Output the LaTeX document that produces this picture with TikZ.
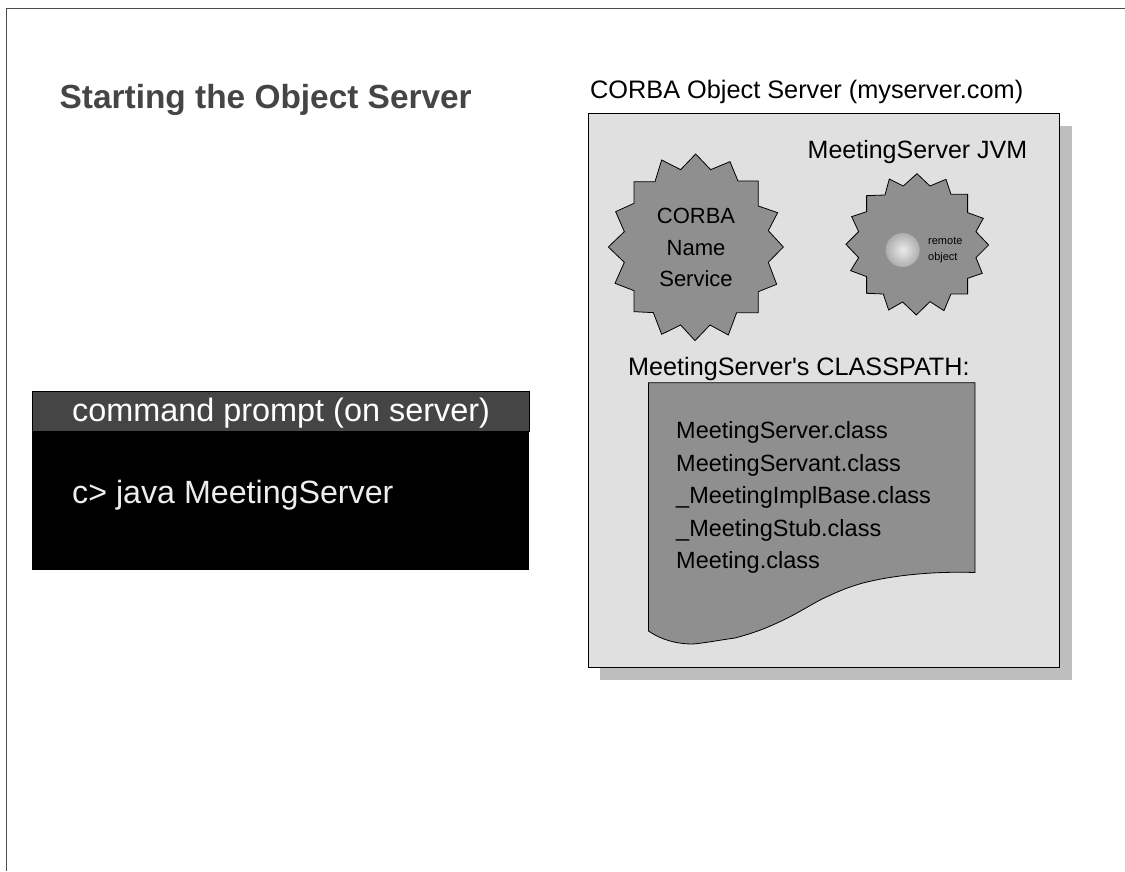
\documentclass[tikz,border=0pt]{standalone}
\usepackage{fontspec}
\setmainfont{Liberation Sans}
\definecolor{paneGray}{HTML}{E0E0E0}
\definecolor{shadowGray}{HTML}{BEBEBE}
\definecolor{starGray}{HTML}{8F8F8F}
\definecolor{barGray}{HTML}{454545}

\begin{document}
\begin{tikzpicture} [x=1pt, y=-1pt,
            frame line/.style={black!70, line width=1.2pt},
            outline/.style={black, line width=0.8pt},
            star/.style={outline, fill=starGray, line join=miter},
            label/.style={inner sep=0pt, anchor=base west, font=\fontsize{#1}{#1}\selectfont},
            centre label/.style={inner sep=0pt, anchor=base, font=\fontsize{22}{22}\selectfont}]

        \useasboundingbox (0,0) rectangle (1125,871);
        \fill[white] (0,0) rectangle (1125,871);
        \draw[frame line] (6.5,871) -- (6.5,8.5) -- (1125,8.5);

        % title
        \node[label=33.4, text=black!73] (title) at (59.5,108) {\bfseries Starting the Object Server};

        % command window
        \fill[black] (32,391) rectangle (529,570);
        \draw[black, fill=barGray] (32,391) rectangle (529,431);
        \node[label=32.4, text=white] (prompt) at (72,421.5) {command prompt (on server)};
        \node[label=32.2, text=black!7] (command) at (72,503) {c> java MeetingServer};

        % server pane
        \node[label=25.3, text=black] (server) at (590,98) {CORBA Object Server (myserver.com)};
        \fill[shadowGray] (600,126) rectangle (1072,680);
        \draw[outline, fill=paneGray] (588,113.5) rectangle (1059,667.5);
        \node[label=25] (jvm) at (807.5,158) {MeetingServer JVM};

        % name service star
        \draw[star, shift={(590,100)}, x=0.3333pt, y=-0.3333pt] (317,162) -- (362,209) -- (420,185) -- (444,243) -- (505,243) -- (505,318)
            -- (563,338) -- (535,392) -- (580,441) -- (535,487) -- (560,553) -- (505,575) -- (505,638) -- (440,638)
            -- (415,705) -- (360,675) -- (315,722) -- (272,675) -- (215,703) -- (190,638) -- (132,635) -- (132,572)
            -- (75,550) -- (103,487) -- (55,441) -- (103,395) -- (77,335) -- (132,310) -- (132,245) -- (195,245)
            -- (215,180) -- (272,209) -- cycle;
        \node[centre label] (corba) at (696,223) {CORBA};
        \node[centre label] (name) at (696,255) {Name};
        \node[centre label] (service) at (696,286) {Service};

        % server star
        \draw[star, shift={(590,100)}, x=0.3333pt, y=-0.3333pt] (981,221) -- (1020,258) -- (1068,238) -- (1083,283) -- (1133,283) -- (1133,338)
            -- (1180,355) -- (1158,395) -- (1196,435) -- (1158,473) -- (1177,520) -- (1133,535) -- (1133,582) -- (1083,582)
            -- (1062,632) -- (1020,605) -- (979,645) -- (938,606) -- (896,630) -- (880,582) -- (830,580) -- (830,530)
            -- (782,512) -- (806,473) -- (768,433) -- (806,395) -- (785,350) -- (830,335) -- (830,287) -- (885,285)
            -- (898,237) -- (940,258) -- cycle;
        \shade[inner color=black!8, outer color=black!32] (902.7,250) circle (17);
        \node[label=11] (remote) at (928,244) {remote};
        \node[label=11] (object) at (928,260) {object};

        % classpath sheet
        \node[label=25.2] (classpath) at (628,375) {MeetingServer\textquotesingle s CLASSPATH:};
        \draw[star] (648.5,382.7) -- (975,382.7) -- (975,572.5) .. controls (930,571) and (890,576) .. (863,583)
            .. controls (845,588) and (835,593) .. (822,599) .. controls (805,608) and (795,615) .. (777,623)
            .. controls (762,630) and (750,634) .. (735,638) .. controls (720,640) and (705,643) .. (693,644)
            .. controls (675,644) and (660,639) .. (648.5,631) -- cycle;
        \node[label=23.5] (file a) at (676,438.5) {MeetingServer.class};
        \node[label=23.5] (file b) at (676,471) {MeetingServant.class};
        \node[label=23.5] (file c) at (676,503.5) {\_MeetingImplBase.class};
        \node[label=23.5] (file d) at (676,536) {\_MeetingStub.class};
        \node[label=23.5] (file e) at (676,568.5) {Meeting.class};
\end{tikzpicture}
\end{document}
